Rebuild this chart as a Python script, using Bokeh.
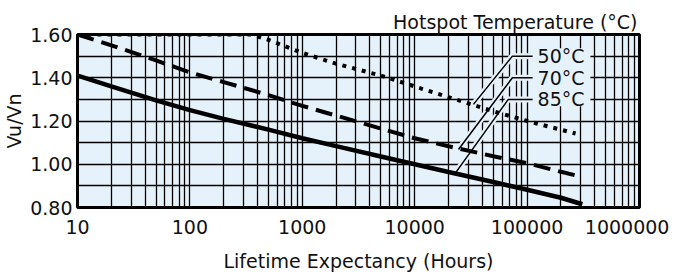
from bokeh.plotting import figure
from bokeh.models import FixedTicker, Range1d, Label, BoxAnnotation
from bokeh.embed import file_html
from bokeh.resources import INLINE

# ---------------- data ----------------
series_labels = ["50°C", "70°C", "85°C"]

x50 = [10, 100, 350, 500, 1000, 2000, 5000, 10000, 20000, 50000, 100000, 200000, 270000]
y50 = [1.60, 1.60, 1.60, 1.575, 1.515, 1.465, 1.41, 1.36, 1.31, 1.245, 1.20, 1.16, 1.142]

x70 = [10, 20, 50, 100, 200, 500, 1000, 2000, 5000, 10000, 20000, 50000, 100000, 200000, 290000]
y70 = [1.60, 1.55, 1.48, 1.425, 1.38, 1.32, 1.27, 1.225, 1.165, 1.12, 1.083, 1.037, 1.005, 0.965, 0.945]

x85 = [10, 20, 50, 100, 200, 500, 1000, 2000, 5000, 10000, 20000, 50000, 100000, 200000, 310000]
y85 = [1.41, 1.36, 1.295, 1.25, 1.21, 1.16, 1.12, 1.084, 1.036, 1.00, 0.964, 0.918, 0.882, 0.845, 0.815]

# leader lines from label to curve
leader_x = [[119000, 74000, 33300], [119000, 74000, 24500], [119000, 68000, 23000]]
leader_y = [[1.50, 1.50, 1.277], [1.40, 1.40, 1.068], [1.30, 1.30, 0.959]]
# background panel behind the labels
label_box = dict(left=112000, right=366000, top=1.536, bottom=1.268)

x_tick_values = [10, 100, 1000, 10000, 100000, 1000000]
x_tick_labels = ["10", "100", "1000", "10000", "100000", "1000000"]
y_tick_values = [0.8, 1.0, 1.2, 1.4, 1.6]
y_tick_labels = ["0.80", "1.00", "1.20", "1.40", "1.60"]
y_grid_values = [0.8, 0.9, 1.0, 1.1, 1.2, 1.3, 1.4, 1.5, 1.6]
x_grid_values = [k * 10 ** d for d in range(1, 6) for k in range(1, 10)] + [1000000]

x_title = "Lifetime Expectancy (Hours)"
y_title = "Vu/Vn"
legend_title = "Hotspot Temperature (°C)"

# ---------------- style ----------------
FONT = "DejaVu Sans"
FS = "19px"
BG = "#e6f2fb"
INK = "#111111"

p = figure(width=675, height=274, x_axis_type="log",
           x_range=Range1d(10, 1000000), y_range=Range1d(0.8, 1.6),
           output_backend="svg", toolbar_location=None,
           min_border_left=77, min_border_right=36, min_border_top=34, min_border_bottom=64,
           background_fill_color=BG, border_fill_color="white",
           outline_line_color="black", outline_line_width=3,
           title=legend_title)

p.title.align = "right"
p.title.text_font = FONT
p.title.text_font_size = "19px"
p.title.text_font_style = "normal"
p.title.text_color = INK
p.title.offset = 2
p.title.standoff = 4

# axes
p.xaxis.ticker = FixedTicker(ticks=x_tick_values)
over = {v: l for v, l in zip(x_tick_values, x_tick_labels)}
over[x_tick_values[-1]] = x_tick_labels[-1] + "\u00a0"
p.xaxis.major_label_overrides = over
p.yaxis.ticker = FixedTicker(ticks=y_tick_values)
p.yaxis.major_label_overrides = {v: l for v, l in zip(y_tick_values, y_tick_labels)}

p.xaxis.axis_label = x_title
p.yaxis.axis_label = y_title
for ax in (p.xaxis, p.yaxis):
    ax.axis_line_color = None
    ax.major_tick_line_color = None
    ax.minor_tick_line_color = None
    ax.major_tick_out = 0
    ax.major_tick_in = 0
    ax.minor_tick_out = 0
    ax.minor_tick_in = 0
    ax.major_label_text_font = FONT
    ax.major_label_text_font_size = FS
    ax.major_label_text_color = INK
    ax.axis_label_text_font = FONT
    ax.axis_label_text_font_size = FS
    ax.axis_label_text_font_style = "normal"
    ax.axis_label_text_color = INK
p.xaxis.major_label_standoff = 8
p.xaxis.axis_label_standoff = 9
p.yaxis.major_label_standoff = 5
p.yaxis.axis_label_standoff = 2

# grid
p.xgrid.ticker = FixedTicker(ticks=x_grid_values)
p.ygrid.ticker = FixedTicker(ticks=y_grid_values)
for g in (p.xgrid, p.ygrid):
    g.grid_line_color = "black"
    g.grid_line_width = 1.3
    g.grid_line_alpha = 1.0

# leader halos (mask grid near leaders)
p.multi_line(leader_x, leader_y, line_color=BG, line_width=6)

# curves
p.line(x50, y50, line_color="black", line_width=4, line_dash="4 6")
p.line(x70, y70, line_color="black", line_width=4, line_dash="17 8")
p.line(x85, y85, line_color="black", line_width=4.5)

# leaders
p.multi_line(leader_x, leader_y, line_color="black", line_width=1.5)

p.add_layout(BoxAnnotation(fill_color=BG, fill_alpha=1.0, line_color=None, **label_box))
for lab, xs, ys in zip(series_labels, leader_x, leader_y):
    p.add_layout(Label(x=xs[0], y=ys[0], text=lab, x_offset=2,
                       text_align="left", text_baseline="middle",
                       text_font=FONT, text_font_size="19px", text_color=INK))

open("out.html", "w").write(file_html(p, INLINE))
